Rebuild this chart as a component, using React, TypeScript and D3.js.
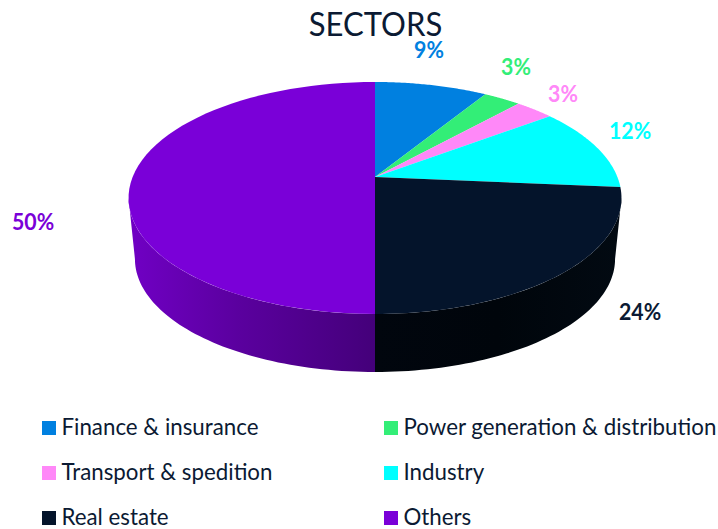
import * as d3 from "d3";

const categories = [
  "Finance & insurance",
  "Power generation & distribution",
  "Transport & spedition",
  "Industry",
  "Real estate",
  "Others",
];
const values = [8.8, 2.9, 3.05, 11.65, 23.6, 50];
const valueLabels = ["9%", "3%", "3%", "12%", "24%", "50%"];
const colors = ["#0080e0", "#33ee77", "#ff88f8", "#00ffff", "#04142b", "#7a00d8"];

// label anchors (middle, baseline)
const labelSpots = [
  [429, 58],
  [516, 75],
  [563, 102],
  [630, 139],
  [640, 320],
  [33, 230],
];

const TEXT = "#0b1a33";
const FONT = "Lato, sans-serif";
const SQUEEZE = 0.97;

// perspective disc: apex of the slices sits above the centre of the ellipse
const cx = 375;
const apexY = 177;
const k = 0.181;
const a = 242.4;
const b = 112.2;
const wallDrop = 61;
const wallScale = 0.974;

const project = (angle: number, scale = 1, drop = 0): [number, number] => {
  const u = Math.sin(angle);
  const v = Math.cos(angle);
  const w = 1 + k * v;
  const ellipseY = apexY + 21;
  const x = cx + (a * u) / w;
  const y = apexY - (b * v) / w;
  return [cx + (x - cx) * scale, ellipseY + (y - ellipseY) * scale + drop];
};

const line = d3.line();

const rim = (from: number, to: number, scale = 1, drop = 0) =>
  d3.range(0, 61).map((i) => project(from + ((to - from) * i) / 60, scale, drop));

export default function App() {
  const arcs = d3.pie<number>().sort(null)(values);
  const leftEdge = 2 * Math.PI - Math.acos(-k);
  const rightEdge = Math.acos(-k);

  const wall = (from: number, to: number) => {
    const top = rim(from, to);
    const bottom = rim(to, from, wallScale, wallDrop);
    return line([...top, ...bottom]) + "Z";
  };

  return (
    <svg
      width={718}
      height={529}
      style={{ position: "absolute", left: 0, top: 0, background: "#fff" }}
      fontFamily={FONT}
    >
      <defs>
        <linearGradient id="wallPurple" gradientUnits="userSpaceOnUse" x1={130} x2={375} y1={0} y2={0}>
          <stop offset="0" stopColor="#7000c4" />
          <stop offset="0.45" stopColor="#5a009e" />
          <stop offset="1" stopColor="#44007a" />
        </linearGradient>
        <linearGradient id="wallDark" gradientUnits="userSpaceOnUse" x1={375} x2={620} y1={0} y2={0}>
          <stop offset="0" stopColor="#01060e" />
          <stop offset="0.5" stopColor="#00050b" />
          <stop offset="1" stopColor="#020a12" />
        </linearGradient>
      </defs>

      <path d={wall(rightEdge, Math.PI)} fill="url(#wallDark)" />
      <path d={wall(Math.PI, leftEdge)} fill="url(#wallPurple)" />

      {arcs.map((d, i) => (
        <path
          key={categories[i]}
          d={line([[cx, apexY], ...rim(d.startAngle, d.endAngle)]) + "Z"}
          fill={colors[i]}
        />
      ))}

      <text
        transform={`translate(375.5,36) scale(${SQUEEZE},1)`}
        textAnchor="middle"
        fontSize={32}
        fill={TEXT}
      >
        SECTORS
      </text>

      {valueLabels.map((label, i) => (
        <text
          key={i}
          transform={`translate(${labelSpots[i][0]},${labelSpots[i][1]}) scale(${SQUEEZE},1)`}
          textAnchor="middle"
          fontSize={22}
          fontWeight={700}
          fill={i === 4 ? TEXT : colors[i]}
        >
          {label}
        </text>
      ))}

      {categories.map((name, i) => {
        const col = i % 2;
        const row = Math.floor(i / 2);
        const x = col === 0 ? 42 : 384;
        const y = 421 + row * 45;
        return (
          <g key={name}>
            <rect x={x} y={y} width={14} height={14} fill={colors[i]} />
            <text x={x + 19.5} y={y + 14} fontSize={22.3} fill={TEXT}>
              {name}
            </text>
          </g>
        );
      })}
    </svg>
  );
}
